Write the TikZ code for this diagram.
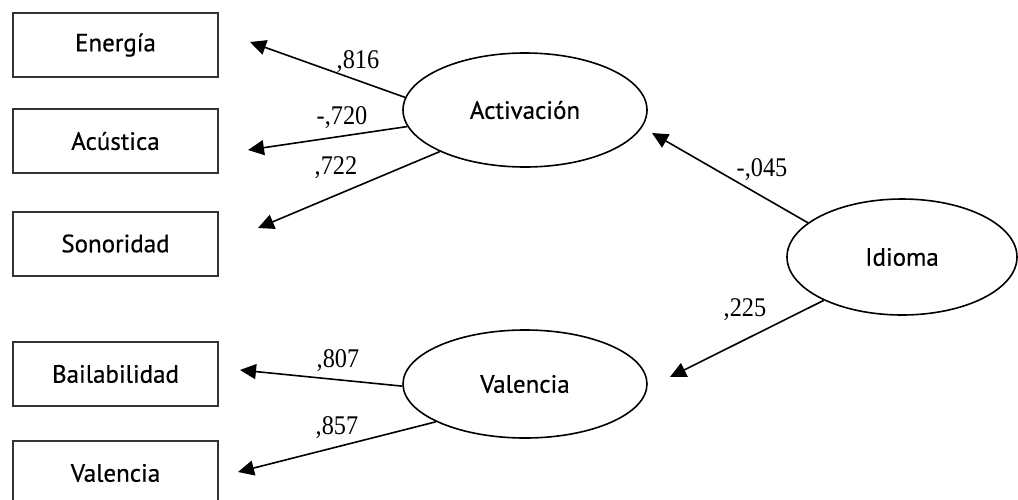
\documentclass[tikz,border=0pt]{standalone}
\usepackage{fontspec}
\setmainfont{PT Sans}[FakeBold=0.6]
\newfontfamily\numfont{Liberation Serif}[FakeStretch=0.9]
\usetikzlibrary{arrows.meta,shapes.geometric}
\begin{document}
\begin{tikzpicture}[x=1pt,y=-1pt,
  obs/.style={draw=black!80,line width=2pt,minimum width=205pt,minimum height=64pt,inner sep=0pt,font=\fontsize{25}{27}\selectfont},
  lat/.style={draw,ellipse,line width=1.6pt,inner sep=0pt,font=\fontsize{25}{27}\selectfont},
  conn/.style={line width=1.6pt,-{Triangle[length=16pt,width=15pt]}},
  coef/.style={inner sep=0pt,font=\numfont\fontsize{27}{29}\selectfont}]
\useasboundingbox (0,0) rectangle (1018,499);
\clip (0,0) rectangle (1018,499);
% observed variables
\node[obs] (ene) at (115.5,45) {Energía};
\node[obs] (acu) at (115.5,141) {Acústica};
\node[obs] (son) at (115.5,243.5) {Sonoridad};
\node[obs] (bai) at (115.5,374) {Bailabilidad};
\node[obs] (valb) at (115.5,473) {Valencia};
% latent variables
\node[lat,minimum width=244pt,minimum height=114pt] (act) at (525,110) {Activación};
\node[lat,minimum width=244pt,minimum height=108pt] (val) at (525,384) {Valencia};
\node[lat,minimum width=230pt,minimum height=116pt] (idi) at (902,257) {Idioma};
% arrow tips
\coordinate (tEne) at (250,42);
\coordinate (tAcu) at (248,150);
\coordinate (tSon) at (258,228);
\coordinate (tBai) at (240,370);
\coordinate (tVal) at (238,472);
\coordinate (tAct) at (652,133);
\coordinate (tVlat) at (670,377);
% connectors
\draw[conn] (act.174.3) -- (tEne);
\draw[conn] (act.188) -- (tAcu);
\draw[conn] (act.206.8) -- (tSon);
\draw[conn] (val.181.4) -- (tBai);
\draw[conn] (val.203) -- (tVal);
\draw[conn] (idi.160.3) -- (tAct);
\draw[conn] (idi.209.2) -- (tVlat);
% coefficients
\node[coef] (c1) at (358,62) {,816};
\node[coef] (c2) at (342,118) {-,720};
\node[coef] (c3) at (336,168) {,722};
\node[coef] (c4) at (338,361) {,807};
\node[coef] (c5) at (337,428) {,857};
\node[coef] (c6) at (762,170) {-,045};
\node[coef] (c7) at (745,310) {,225};
\end{tikzpicture}
\end{document}
